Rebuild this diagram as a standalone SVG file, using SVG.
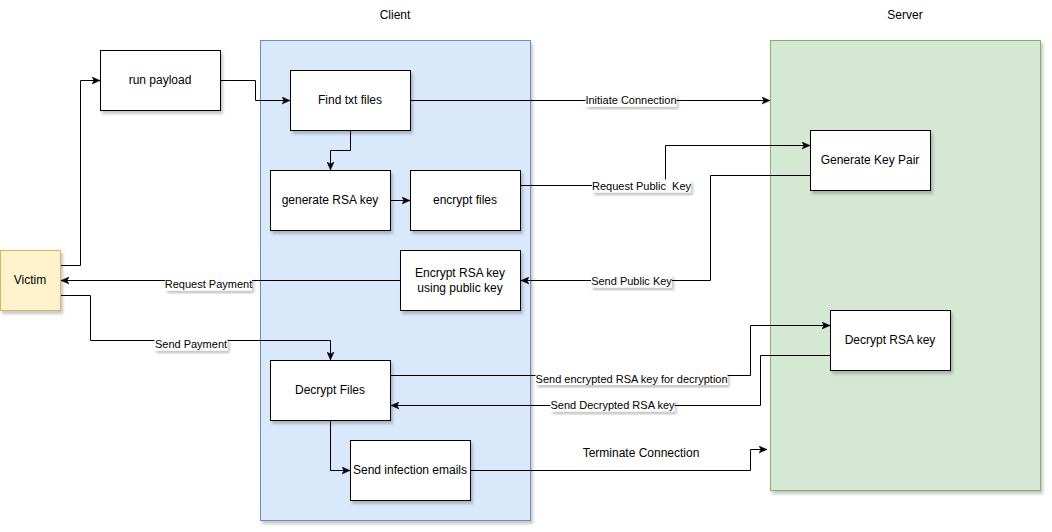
<svg xmlns="http://www.w3.org/2000/svg" width="1052" height="532" viewBox="0 0 1052 532">
<style>
  .box { fill: #ffffff; stroke: #000000; stroke-width: 1; }
  .txt { font-family: "Liberation Sans", Arial, sans-serif; font-size: 12px; fill: #000000; text-anchor: middle; }
  .lbl { font-family: "Liberation Sans", Arial, sans-serif; font-size: 11px; fill: #000000; text-anchor: middle; white-space: pre; }
  .lblbg { fill: #ffffff; stroke: none; }
  .edge { fill: none; stroke: #000000; stroke-width: 1; }
  .arrow { marker-end: url(#arr); }
</style>
<defs>
  <marker id="arr" markerUnits="userSpaceOnUse" markerWidth="8" markerHeight="8" viewBox="0 0 8 8" refX="8" refY="4" orient="auto">
    <path d="M0,0.5 L8,4 L0,7.5 L2,4 z" fill="#000000" stroke="#000000" stroke-width="0.5"/>
  </marker>
  <filter id="sh" x="-10%" y="-10%" width="130%" height="130%">
    <feDropShadow dx="2" dy="3" stdDeviation="1.5" flood-color="#000000" flood-opacity="0.22"/>
  </filter>
</defs>
<rect width="1052" height="532" fill="#ffffff"/>

<g id="client">
  <rect x="260.5" y="40.5" width="270" height="480" fill="#dae8fc" stroke="#6c8ebf" filter="url(#sh)"/>
  <text class="txt" x="395" y="19">Client</text>
</g>
<g id="server">
  <rect x="770.5" y="40.5" width="270" height="450" fill="#d5e8d4" stroke="#82b366" filter="url(#sh)"/>
  <text class="txt" x="905" y="19">Server</text>
</g>

<g id="connectors">
  <path class="edge arrow" d="M60.5,265.5 H80.5 V80.5 H100"/>
  <path class="edge arrow" d="M220.5,80.5 H255.5 V100.5 H290"/>
  <path class="edge arrow" d="M350.5,130.5 V150.5 H330.5 V170"/>
  <path class="edge arrow" d="M390.5,200.5 H410"/>
  <path class="edge arrow" d="M410.5,100.5 H770"/>
  <rect class="lblbg" x="585.5" y="93.5" width="91" height="13" filter="url(#sh)"/>
  <text class="lbl" x="631" y="104">Initiate Connection</text>
  <path class="edge arrow" d="M520.5,185.5 H665.5 V145.5 H810"/>
  <rect class="lblbg" x="592" y="179.5" width="99" height="13" filter="url(#sh)"/>
  <text class="lbl" x="641.5" y="190" xml:space="preserve">Request Public  Key</text>
  <path class="edge arrow" d="M810.5,175.5 H710.5 V280.5 H521"/>
  <rect class="lblbg" x="591" y="274.5" width="81" height="13" filter="url(#sh)"/>
  <text class="lbl" x="631.5" y="285">Send Public Key</text>
  <path class="edge arrow" d="M400.5,280.5 H61"/>
  <rect class="lblbg" x="165" y="277.5" width="87" height="13" filter="url(#sh)"/>
  <text class="lbl" x="208.5" y="288">Request Payment</text>
  <path class="edge arrow" d="M60.5,295.5 H90.5 V340.5 H330.5 V360"/>
  <rect class="lblbg" x="154.5" y="337.5" width="73" height="13" filter="url(#sh)"/>
  <text class="lbl" x="191" y="348">Send Payment</text>
  <path class="edge arrow" d="M390.5,375.5 H750.5 V325.5 H830"/>
  <rect class="lblbg" x="535.5" y="372" width="192" height="13" filter="url(#sh)"/>
  <text class="lbl" x="631.6" y="382.5">Send encrypted RSA key for decryption</text>
  <path class="edge arrow" d="M830.5,355.5 H760.5 V405.5 H391"/>
  <rect class="lblbg" x="550.5" y="398.5" width="124" height="13" filter="url(#sh)"/>
  <text class="lbl" x="612.5" y="409">Send Decrypted RSA key</text>
  <path class="edge arrow" d="M330.5,420.5 V470.5 H350"/>
  <path class="edge arrow" d="M470.5,470.5 H750.5 V449.5 H767"/>
  <text class="txt" x="641" y="457">Terminate Connection</text>
</g>

<g id="victim">
  <rect x="0.5" y="250.5" width="60" height="60" fill="#fff2cc" stroke="#d6b656" filter="url(#sh)"/>
  <text class="txt" x="30" y="284">Victim</text>
</g>
<g id="run-payload">
  <rect class="box" x="100.5" y="50.5" width="120" height="60" filter="url(#sh)"/>
  <text class="txt" x="160" y="84">run payload</text>
</g>
<g id="find-txt-files">
  <rect class="box" x="290.5" y="70.5" width="120" height="60" filter="url(#sh)"/>
  <text class="txt" x="350" y="104">Find txt files</text>
</g>
<g id="generate-rsa-key">
  <rect class="box" x="270.5" y="170.5" width="120" height="60" filter="url(#sh)"/>
  <text class="txt" x="330" y="204">generate RSA key</text>
</g>
<g id="encrypt-files">
  <rect class="box" x="410.5" y="170.5" width="110" height="60" filter="url(#sh)"/>
  <text class="txt" x="465" y="204">encrypt files</text>
</g>
<g id="encrypt-rsa-key">
  <rect class="box" x="400.5" y="250.5" width="120" height="60" filter="url(#sh)"/>
  <text class="txt" x="460" y="277">Encrypt RSA key</text>
  <text class="txt" x="460" y="292">using public key</text>
</g>
<g id="decrypt-files">
  <rect class="box" x="270.5" y="360.5" width="120" height="60" filter="url(#sh)"/>
  <text class="txt" x="330" y="394">Decrypt Files</text>
</g>
<g id="send-infection-emails">
  <rect class="box" x="350.5" y="440.5" width="120" height="60" filter="url(#sh)"/>
  <text class="txt" x="410" y="474">Send infection emails</text>
</g>
<g id="generate-key-pair">
  <rect class="box" x="810.5" y="130.5" width="120" height="60" filter="url(#sh)"/>
  <text class="txt" x="870" y="164">Generate Key Pair</text>
</g>
<g id="decrypt-rsa-key">
  <rect class="box" x="830.5" y="310.5" width="120" height="60" filter="url(#sh)"/>
  <text class="txt" x="890" y="344">Decrypt RSA key</text>
</g>
</svg>
